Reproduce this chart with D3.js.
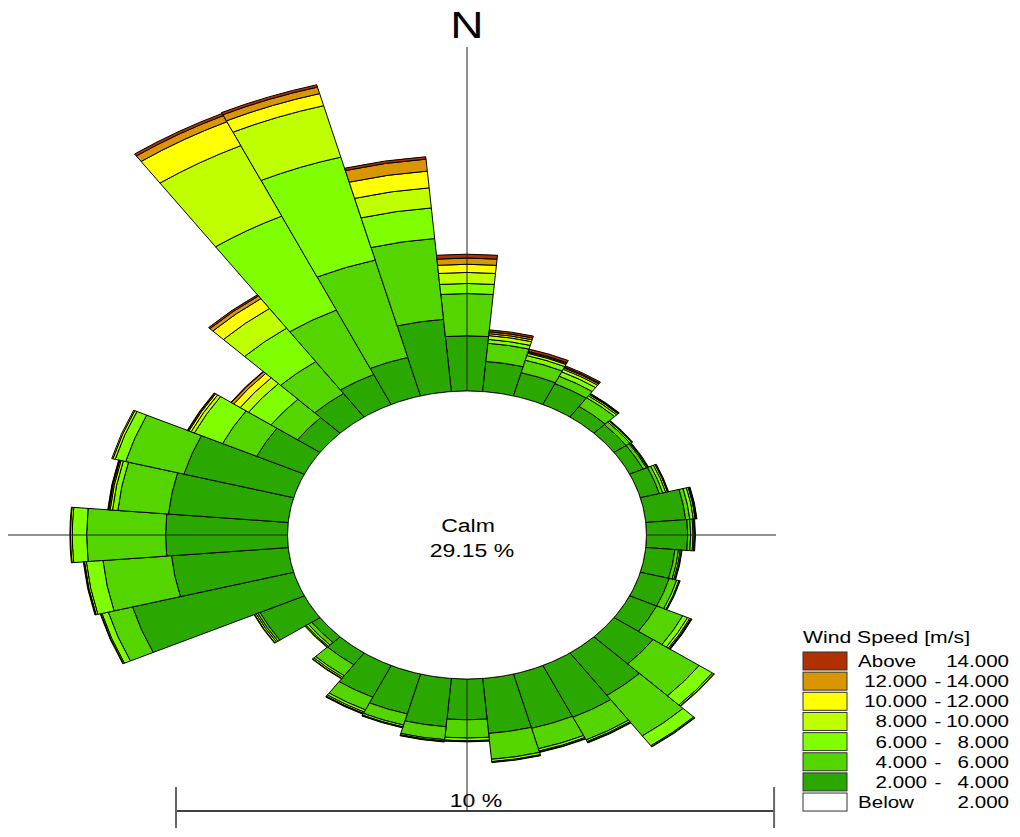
<!DOCTYPE html>
<html>
<head>
<meta charset="utf-8">
<script src="https://cdn.jsdelivr.net/npm/d3@7"></script>
<style>
  html, body { margin: 0; padding: 0; background: #fff; }
  svg { display: block; }
  text { font-family: "Liberation Sans", Arial, sans-serif; fill: #000; }
</style>
</head>
<body>
<svg id="chart" width="1020" height="837"></svg>
<script>
// Wind directions: centre of each 10° sector, clockwise from north
const directions = d3.range(0, 360, 10);

// Frequency (%) of each wind speed class per direction sector
const s2to4   = [1.15,0.63,0.50,0.48,0.27,0.25,0.25,0.33,0.67,0.69,0.49,0.50,0.50,0.80,1.08,1.19,1.17,1.15,0.85,1.01,0.86,0.73,0.30,0.17,0.82,2.79,1.96,2.04,2.01,1.90,0.88,0.46,0.60,0.69,0.83,1.51];
const s4to6   = [0.88,0.38,0.27,0.17,0.22,0.08,0.06,0.06,0.07,0.05,0.06,0.13,0.48,0.94,1.03,0.52,0.44,0.54,0.38,0.27,0.24,0.29,0.28,0.07,0.04,0.42,1.15,1.32,0.85,1.01,0.63,0.54,0.81,1.48,2.10,1.69];
const s6to8   = [0.21,0.08,0.10,0.10,0.05,0.03,0.02,0.05,0.06,0.04,0.03,0.04,0.09,0.27,0.25,0.04,0.05,0.05,0.06,0.03,0.04,0.05,0.04,0.04,0.03,0.11,0.28,0.24,0.09,0.18,0.52,0.46,0.85,2.16,2.22,0.64];
const s8to10  = [0.23,0.08,0.05,0.06,0.03,0.01,0.01,0.03,0.03,0.02,0.02,0.01,0.04,0.03,0.02,0.02,0.02,0.01,0.01,0.01,0.01,0.03,0.03,0.02,0.03,0.02,0.03,0.03,0.04,0.04,0.06,0.17,0.50,1.62,1.11,0.42];
const s10to12 = [0.17,0.04,0.02,0.03,0.01,0.01,0.01,0.01,0.01,0.01,0.01,0.01,0.02,0.01,0.01,0.01,0.01,0.01,0.01,0.01,0.01,0.01,0.01,0.01,0.01,0.01,0.01,0.01,0.02,0.02,0.04,0.13,0.25,0.55,0.26,0.35];
const s12to14 = [0.13,0.04,0.02,0.02,0.01,0.00,0.00,0.01,0.01,0.01,0.00,0.00,0.01,0.00,0.00,0.00,0.00,0.00,0.00,0.00,0.00,0.01,0.00,0.00,0.00,0.00,0.01,0.00,0.01,0.00,0.02,0.05,0.07,0.14,0.14,0.25];
const sAbove14 = [0.08,0.04,0.05,0.03,0.01,0.00,0.00,0.00,0.01,0.00,0.00,0.00,0.01,0.00,0.00,0.00,0.00,0.00,0.00,0.00,0.00,0.00,0.00,0.00,0.00,0.00,0.00,0.00,0.01,0.00,0.01,0.01,0.03,0.05,0.05,0.05];

const calmPct = 29.15;

// Speed classes, inner (slow) to outer (fast)
const classKeys   = ["s2to4", "s4to6", "s6to8", "s8to10", "s10to12", "s12to14", "sAbove14"];
const classColors = ["#2ba800", "#55d500", "#80ff00", "#c0ff00", "#ffff00", "#d99600", "#b03000"];

// Legend rows, top to bottom: [low, high, colour]
const legendRows = [
  ["Above", "14.000", "#b03000"],
  ["12.000", "14.000", "#d99600"],
  ["10.000", "12.000", "#ffff00"],
  ["8.000", "10.000", "#c0ff00"],
  ["6.000", "8.000", "#80ff00"],
  ["4.000", "6.000", "#55d500"],
  ["2.000", "4.000", "#2ba800"],
  ["Below", "2.000", "#ffffff"]
];
const legendTitle = "Wind Speed [m/s]";
const scaleLabelPct = 10;

// ---- layout ----
const svg = d3.select("#chart");
const cx = 467, cy = 535;
const stretch = 1.246;          // horizontal aspect of the rose
const calmR = 144;              // calm circle radius (vertical px)
const pxPerPct = 48;            // radial px per percent (vertical)

const r = d3.scaleLinear().domain([0, 10]).range([calmR, calmR + 10 * pxPerPct]);

const table = directions.map((dir, i) => ({
  dir,
  s2to4: s2to4[i], s4to6: s4to6[i], s6to8: s6to8[i], s8to10: s8to10[i],
  s10to12: s10to12[i], s12to14: s12to14[i], sAbove14: sAbove14[i]
}));
const stacked = d3.stack().keys(classKeys)(table);

const arc = d3.arc();
const toRad = Math.PI / 180;

const rose = svg.append("g")
  .attr("transform", `translate(${cx},${cy}) scale(${stretch},1)`);

stacked.forEach((series, k) => {
  rose.append("g").selectAll("path")
    .data(series.filter(d => d[1] - d[0] > 0))
    .join("path")
    .attr("d", d => arc({
      innerRadius: r(d[0]),
      outerRadius: r(d[1]),
      startAngle: (d.data.dir - 5) * toRad,
      endAngle: (d.data.dir + 5) * toRad
    }))
    .attr("fill", classColors[k])
    .attr("stroke", "#000")
    .attr("stroke-width", 1)
    .attr("stroke-linejoin", "round")
    .attr("vector-effect", "non-scaling-stroke");
});

// Compass axes
svg.append("line")
  .attr("x1", cx).attr("x2", cx).attr("y1", 47).attr("y2", 811)
  .attr("stroke", "#222").attr("stroke-width", 1);
svg.append("line")
  .attr("x1", 8).attr("x2", 776).attr("y1", cy).attr("y2", cy)
  .attr("stroke", "#222").attr("stroke-width", 1);

// Calm circle
svg.append("ellipse")
  .attr("cx", cx).attr("cy", cy)
  .attr("rx", calmR * stretch).attr("ry", calmR)
  .attr("fill", "#fff")
  .attr("stroke", "#000").attr("stroke-width", 0.8);

// Stretched text helper
function label(x, y, str, size, anchor) {
  return svg.append("text")
    .attr("transform", `translate(${x},${y}) scale(${stretch},1)`)
    .attr("text-anchor", anchor || "start")
    .attr("font-size", size)
    .text(str);
}

label(cx, 38, "N", 37, "middle");
label(cx + 1, 532, "Calm", 18.5, "middle");
label(cx + 5, 557, `${calmPct.toFixed(2)} %`, 18.5, "middle");

// Percentage scale bar
const barX0 = 176;
const barLen = (r(scaleLabelPct) - r(0)) * stretch;
const barY = 811;
svg.append("line")
  .attr("x1", barX0).attr("x2", barX0 + barLen).attr("y1", barY).attr("y2", barY)
  .attr("stroke", "#000").attr("stroke-width", 1.5);
[barX0, barX0 + barLen].forEach(x => {
  svg.append("line")
    .attr("x1", x).attr("x2", x).attr("y1", 787).attr("y2", 828)
    .attr("stroke", "#666").attr("stroke-width", 2);
});
label(barX0 + barLen / 2 + 1, 807, `${scaleLabelPct} %`, 18.5, "middle");

// Legend
const legX = 803, legY = 652, rowH = 20.15;
label(legX, 643, legendTitle, 17, "start");
const legend = svg.append("g");
legendRows.forEach((row, i) => {
  const y = legY + i * rowH;
  legend.append("rect")
    .attr("x", legX).attr("y", y).attr("width", 44).attr("height", 18)
    .attr("fill", row[2]).attr("stroke", "#333").attr("stroke-width", 1);
  const base = y + 15;
  if (row[0] === "Above" || row[0] === "Below") {
    label(858, base, row[0], 16.5, "start");
  } else {
    label(927, base, row[0], 16.5, "end");
    label(938, base, "-", 16.5, "middle");
  }
  label(1009, base, row[1], 16.5, "end");
});
</script>
</body>
</html>
